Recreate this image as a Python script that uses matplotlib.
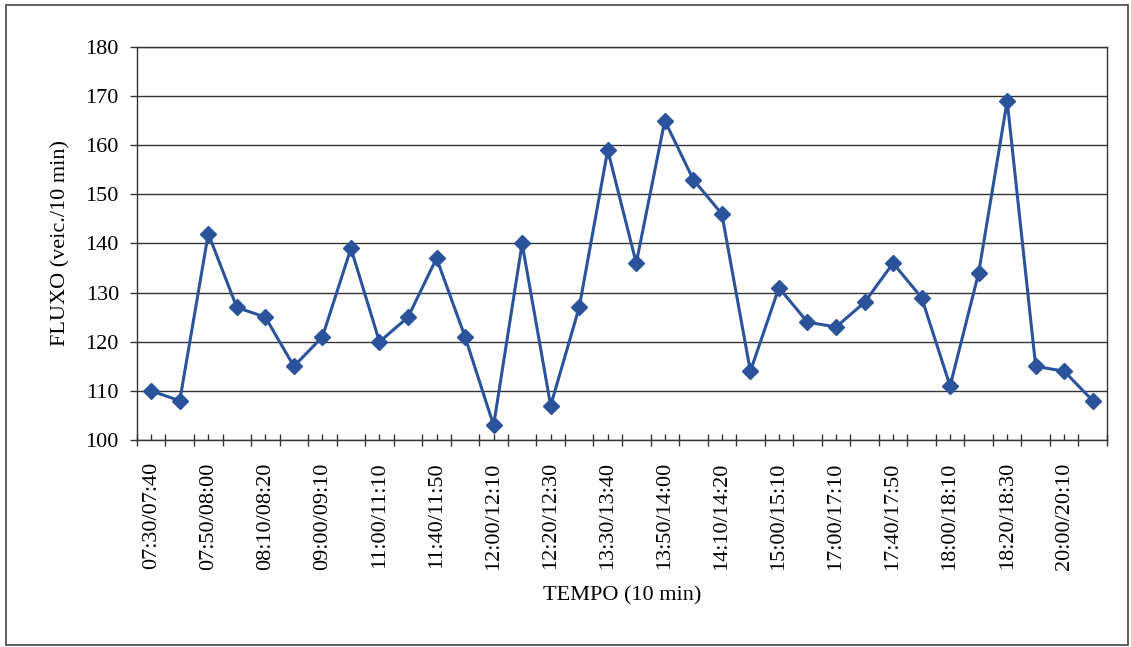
import matplotlib
matplotlib.use('Agg')
import matplotlib.pyplot as plt
from matplotlib.patches import Rectangle
import numpy as np

#### DATA ####
labels = ["07:30/07:40", "07:50/08:00", "08:10/08:20", "09:00/09:10", "11:00/11:10",
          "11:40/11:50", "12:00/12:10", "12:20/12:30", "13:30/13:40", "13:50/14:00",
          "14:10/14:20", "15:00/15:10", "17:00/17:10", "17:40/17:50", "18:00/18:10",
          "18:20/18:30", "20:00/20:10"]

fluxo = [110, 108, 142, 127, 125, 115, 121, 139, 120, 125, 137, 121, 103, 140, 107, 127,
         159, 136, 165, 153, 146, 114, 131, 124, 123, 128, 136, 129, 111, 134, 169, 115,
         114, 108]

plt.rcParams['font.family'] = ['Liberation Serif', 'DejaVu Serif']

fig = plt.figure(figsize=(11.31, 6.47), dpi=100)
ax = fig.add_axes([0.1211, 0.3199, 0.8577, 0.6075])

x = np.arange(len(fluxo))
ax.plot(x, fluxo, color="#2b539b", lw=2.2, marker="D", ms=8, mfc="#2b539b", mec="#2b539b",
        zorder=3, clip_on=False)

ax.set_xlim(-0.5, len(fluxo) - 0.5)
ax.set_ylim(100, 180)
ax.set_yticks(np.arange(100, 181, 10))
ax.grid(True, axis="y", color="#333333", lw=1.0)

# ticks at category boundaries, labels under every other point
ax.set_xticks(np.arange(-0.5, len(fluxo), 1.0))
ax.set_xticklabels([])
ax.set_xticks(x[::2], minor=True)
ax.set_xticklabels(labels, minor=True, rotation=90, fontsize=16)
ax.tick_params(axis="x", which="major", direction="inout", length=8, width=1, color="#333333")
ax.tick_params(axis="x", which="minor", direction="in", length=4, width=1, color="#333333", pad=16)
ax.tick_params(axis="y", direction="out", length=5, width=1, color="#333333", labelsize=16, pad=8)

for s in ax.spines.values():
    s.set_color("#333333")
    s.set_linewidth(1.0)

ax.set_xlabel("TEMPO (10 min)", fontsize=16, labelpad=12)
ax.set_ylabel("FLUXO (veic./10 min)", fontsize=16, labelpad=11)

# outer frame of the chart area
fig.patches.append(Rectangle((0.005, 0.003), 0.992, 0.99, transform=fig.transFigure,
                             fill=False, ec="#444444", lw=1.2))

fig.savefig("out.png", dpi=100)
